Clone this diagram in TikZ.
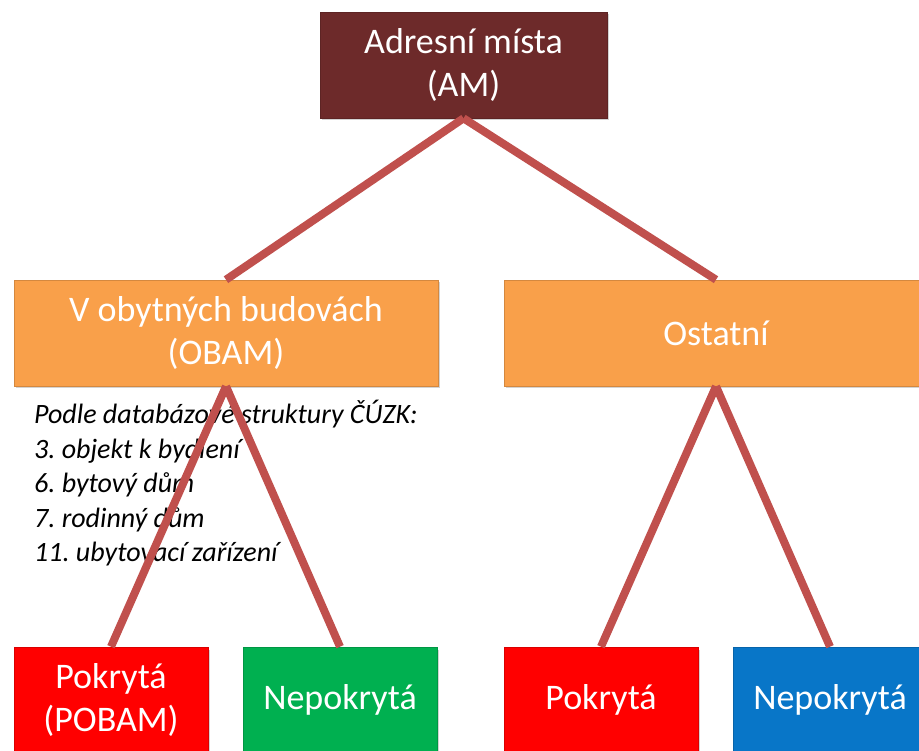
\documentclass[tikz,border=0pt]{standalone}
\usepackage{fontspec}
\setmainfont{Carlito}
\usetikzlibrary{shadows}

\definecolor{amred}{RGB}{109,42,42}
\definecolor{obamorange}{RGB}{249,160,74}
\definecolor{pokred}{RGB}{255,0,0}
\definecolor{nepgreen}{RGB}{0,176,80}
\definecolor{nepblue}{RGB}{8,118,200}
\definecolor{linkred}{RGB}{192,80,77}

\begin{document}
\frenchspacing
\begin{tikzpicture}[x=1pt,y=-1pt,
		box/.style={draw=#1!85!black,line width=.6pt,fill=#1,text=white,align=center,
			inner sep=0pt,font=\fontsize{36}{43}\selectfont,
			drop shadow={opacity=.35,shadow xshift=1.5pt,shadow yshift=-2.5pt}},
		wide/.style={minimum width=424pt,minimum height=106pt},
		small/.style={minimum width=194pt,minimum height=106pt},
		link/.style={draw=linkred,line width=8pt}]
		\clip (0,0) rectangle (919,751);
		\useasboundingbox (0,0) rectangle (919,751);
		% legend under OBAM
		\node[anchor=north west,inner sep=0pt,align=left,font=\fontsize{28}{34.5}\selectfont\itshape] (cuzk) at (34,400)
			{Podle databázové struktury ČÚZK:\\3. objekt k bydlení\\6. bytový dům\\7. rodinný dům\\11. ubytovací zařízení};
		% boxes
		\node[box=amred,minimum width=287pt,minimum height=106pt] (am) at (463.5,65) {Adresní místa\\(AM)};
		\node[box=obamorange,wide] (obam) at (226,333) {V obytných budovách\\(OBAM)};
		\node[box=obamorange,wide] (ost) at (716,333) {Ostatní};
		\node[box=pokred,small] (pobam) at (111,700) {Pokrytá\\(POBAM)};
		\node[box=nepgreen,small] (nobam) at (340,700) {Nepokrytá};
		\node[box=pokred,small] (post) at (601,700) {Pokrytá};
		\node[box=nepblue,small] (nost) at (830,700) {Nepokrytá};
		% links
		\draw[link] (am.south)--(obam.north);
		\draw[link] (am.south)--(ost.north);
		\draw[link] (obam.south)--(pobam.north);
		\draw[link] (obam.south)--(nobam.north);
		\draw[link] (ost.south)--(post.north);
		\draw[link] (ost.south)--(nost.north);
	\end{tikzpicture}
\end{document}
